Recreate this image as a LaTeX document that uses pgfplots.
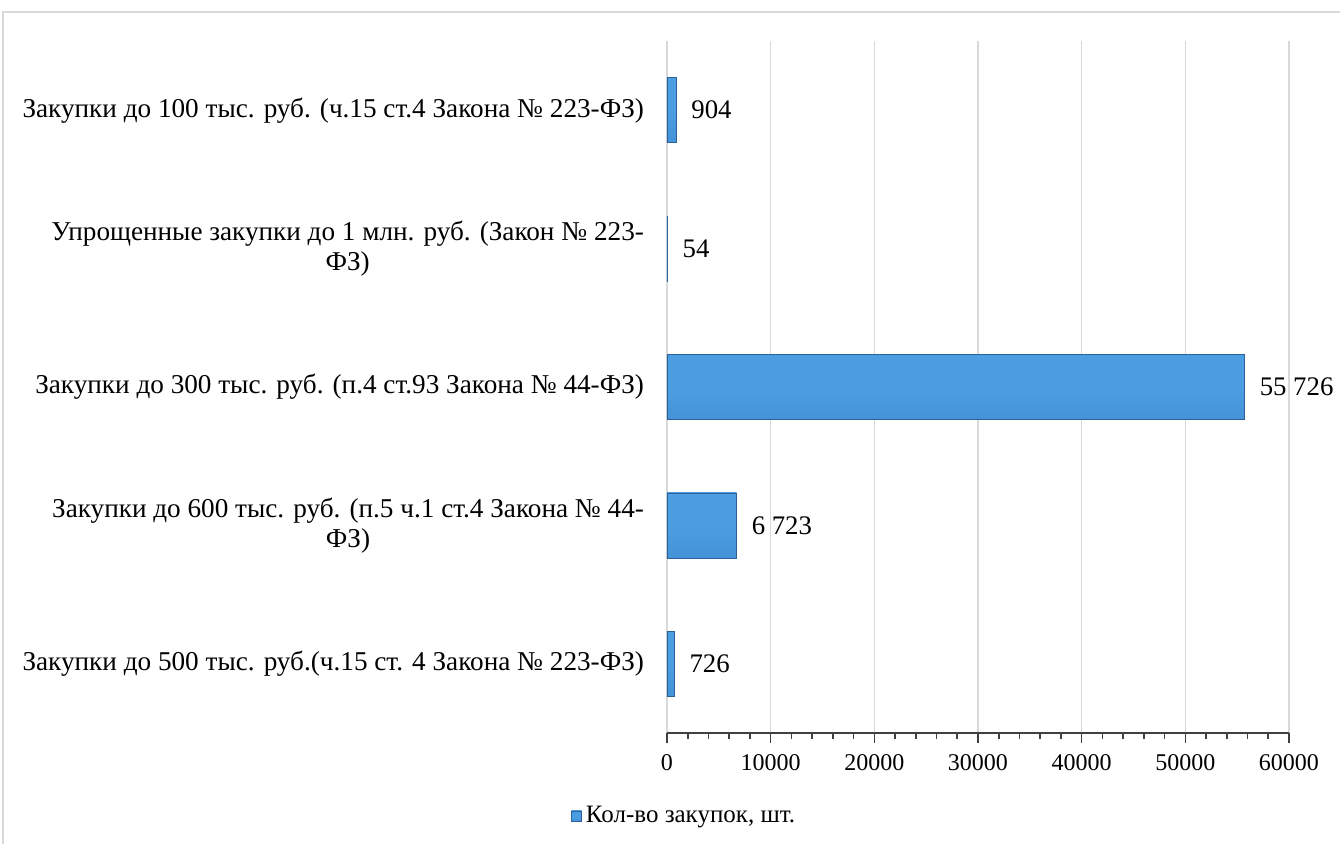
\documentclass[border=0pt]{standalone}
\usepackage{pgfplots}
\pgfplotsset{compat=1.18}
\usepackage{fontspec}
\setmainfont{Liberation Serif}
\definecolor{gridc}{HTML}{D9D9D9}
\definecolor{bartop}{HTML}{80C6F5}
\definecolor{barmid}{HTML}{4C9EE2}
\definecolor{barmid2}{HTML}{3F8AD0}
\definecolor{barbot}{HTML}{2A5E90}
\definecolor{baredge}{HTML}{2F6199}
\definecolor{axc}{HTML}{404040}
\pgfdeclareverticalshading{bevel}{100bp}{color(0bp)=(barbot); color(7bp)=(barmid2); color(50bp)=(barmid); color(88bp)=(barmid); color(100bp)=(bartop)}
\pgfplotsset{barsty/.style={shading=bevel, draw=baredge, line width=0.4pt, bar shift=0pt}}
\begin{document}
\begin{tikzpicture}
\path[use as bounding box] (0,0) rectangle (670pt,421.5pt);
\draw[gridc, line width=0.8pt] (1.5pt,-5pt) -- (1.5pt,415.5pt) -- (700pt,415.5pt);
\begin{axis}[
  at={(333.5pt,55pt)}, anchor=south west,
  scale only axis, width=311pt, height=346pt,
  xbar, bar width=32.5pt,
  xmin=0, xmax=60000,
  ymin=-0.5, ymax=4.5,
  xtick={0,10000,...,60000},
  scaled x ticks=false,
  minor x tick num=4,
  xtick align=outside,
  major tick length=5pt, minor tick length=2.8pt,
  /pgf/number format/assume math mode=true,
  /pgf/number format/set thousands separator={},
  axis x line*=bottom,
  axis y line*=left,
  y axis line style={draw=none},
  ytick style={draw=none},
  x axis line style={axc, line width=0.8pt, -},
  xtick style={axc, line width=0.8pt},
  xmajorgrids, major grid style={gridc, line width=0.8pt},
  ytick={0,1,2,3,4},
  yticklabels={
    Закупки до 500 тыс. руб.(ч.15 ст. 4 Закона № 223-ФЗ),
    {Закупки до 600 тыс. руб. (п.5 ч.1 ст.4 Закона № 44-\\ФЗ)},
    Закупки до 300 тыс. руб. (п.4 ст.93 Закона № 44-ФЗ),
    {Упрощенные закупки до 1 млн. руб. (Закон № 223-\\ФЗ)},
    Закупки до 100 тыс. руб. (ч.15 ст.4 Закона № 223-ФЗ)},
  xticklabel style={font=\fontsize{12pt}{13pt}\selectfont, yshift=-2pt},
  yticklabel style={font=\fontsize{13.6pt}{15pt}\selectfont, align=center, xshift=-3pt},
  nodes near coords={\pgfmathprintnumber[assume math mode=true, 1000 sep={\ }]{\pgfplotspointmeta}},
  nodes near coords style={font=\fontsize{13.4pt}{15pt}\selectfont, anchor=west, xshift=4pt, black},
  legend style={at={(0.029,-0.12)}, anchor=center, draw=none, fill=none,
    font=\fontsize{12.5pt}{14pt}\selectfont, inner sep=0pt},
  legend image code/.code={\shade[shading=bevel, draw=baredge, line width=0.3pt] (0pt,-2.6pt) rectangle (5.2pt,2.6pt);},
]
\addplot+[barsty] coordinates {(726,0)};
\addlegendentry{Кол-во закупок, шт.}
\addplot+[barsty, forget plot] coordinates {(6723,1)};
\addplot+[barsty, forget plot] coordinates {(55726,2)};
\addplot+[barsty, forget plot] coordinates {(54,3)};
\addplot+[barsty, forget plot] coordinates {(904,4)};
\end{axis}
\end{tikzpicture}
\end{document}
